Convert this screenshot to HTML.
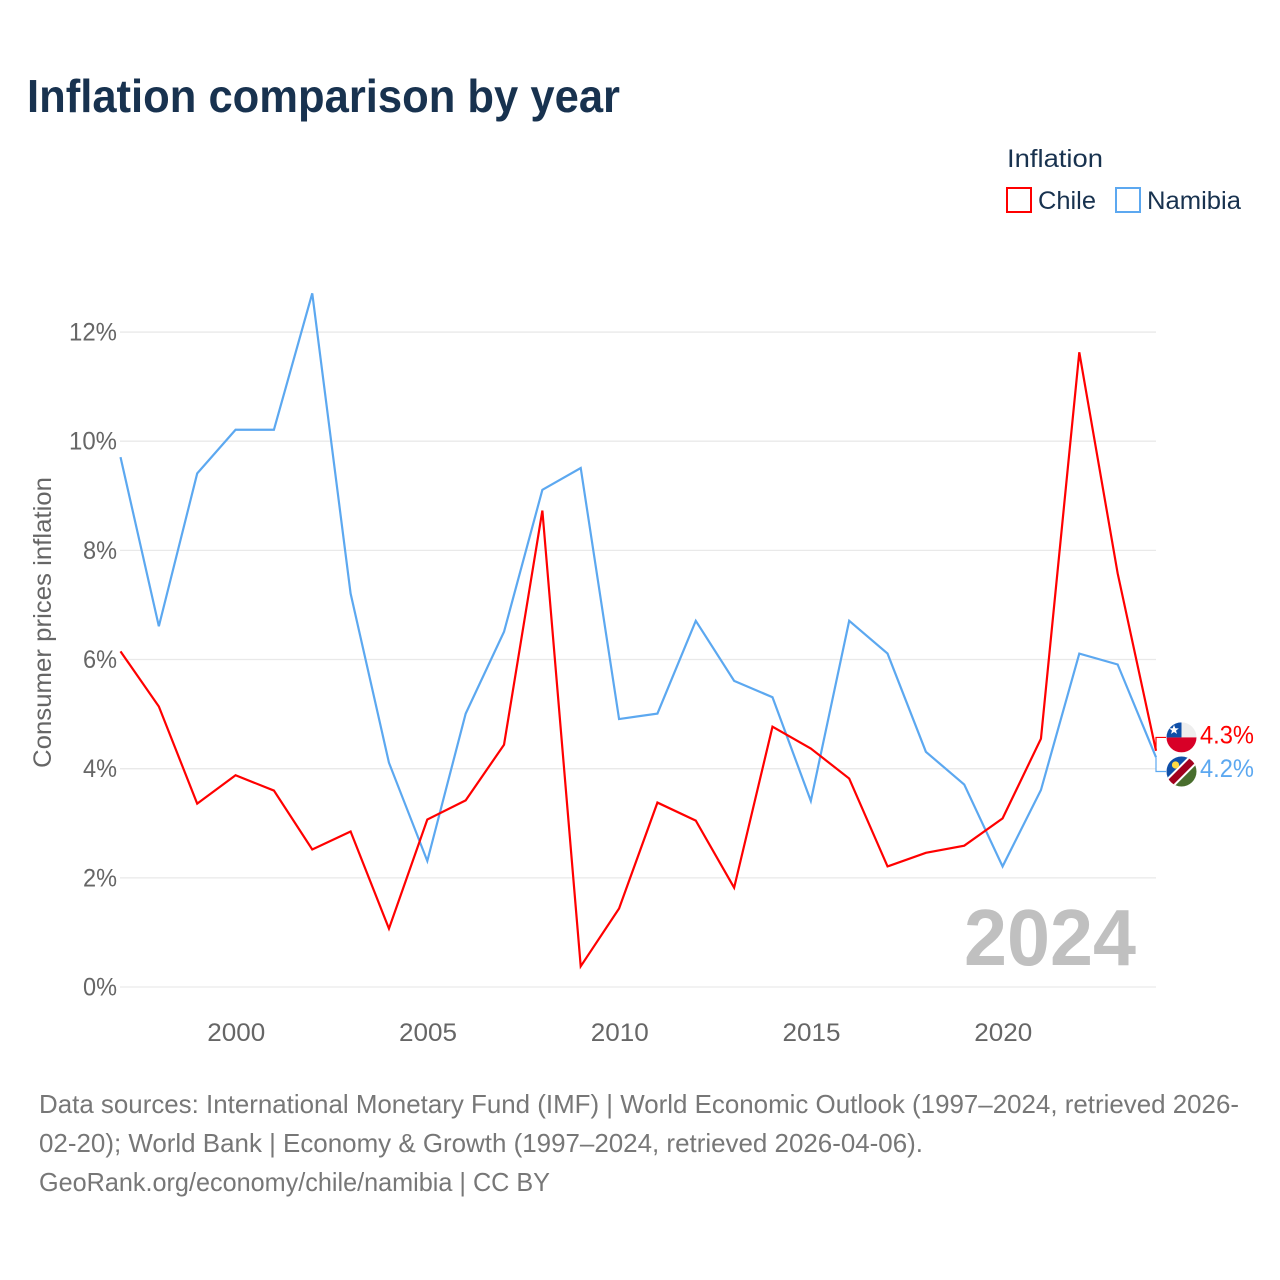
<!DOCTYPE html>
<html lang="en">
<head>
<meta charset="utf-8">
<title>Inflation comparison by year</title>
<style>
html,body{margin:0;padding:0;background:#fff}
svg{display:block}
text{font-family:"Liberation Sans",sans-serif}
</style>
</head>
<body>
<svg id="chart" width="1280" height="1280" viewBox="0 0 1280 1280" xmlns="http://www.w3.org/2000/svg">
  <defs>
    <clipPath id="clip-chile"><circle id="clip-chile-c" cx="0" cy="0" r="15"/></clipPath>
    <clipPath id="clip-namibia"><circle id="clip-namibia-c" cx="0" cy="0" r="15"/></clipPath>
  </defs>
  <rect width="1280" height="1280" fill="#fff"/>
  <text x="27" y="112" font-size="46" font-weight="700" fill="#18324f" textLength="593" lengthAdjust="spacingAndGlyphs">Inflation comparison by year</text>

  <text x="1007" y="167" font-size="25" fill="#18324f" textLength="96" lengthAdjust="spacingAndGlyphs">Inflation</text>
  <rect x="1007" y="188" width="24" height="24" fill="none" stroke="#ff0000" stroke-width="2"/>
  <text x="1038" y="209" font-size="25" fill="#18324f" textLength="58" lengthAdjust="spacingAndGlyphs">Chile</text>
  <rect x="1116" y="188" width="24" height="24" fill="none" stroke="#5ca8f0" stroke-width="2"/>
  <text x="1147" y="209" font-size="25" fill="#18324f" textLength="94" lengthAdjust="spacingAndGlyphs">Namibia</text>

  <g id="grid"></g>
  <g id="y-ticks"></g>
  <g id="x-ticks"></g>
  <text transform="translate(51 622.5) rotate(-90)" text-anchor="middle" font-size="25" fill="#666" textLength="291" lengthAdjust="spacingAndGlyphs">Consumer prices inflation</text>

  <text x="964" y="965" font-size="80" font-weight="700" fill="#c0c0c0" textLength="172" lengthAdjust="spacingAndGlyphs">2024</text>

  <g id="series"></g>
  <g id="end-labels"></g>

  <text x="39" y="1113" font-size="26" fill="#777" textLength="1200" lengthAdjust="spacingAndGlyphs">Data sources: International Monetary Fund (IMF) | World Economic Outlook (1997–2024, retrieved 2026-</text>
  <text x="39" y="1152" font-size="26" fill="#777" textLength="884" lengthAdjust="spacingAndGlyphs">02-20); World Bank | Economy &amp; Growth (1997–2024, retrieved 2026-04-06).</text>
  <text x="39" y="1191" font-size="26" fill="#777" textLength="511" lengthAdjust="spacingAndGlyphs">GeoRank.org/economy/chile/namibia | CC BY</text>
</svg>
<script>
var years = [1997,1998,1999,2000,2001,2002,2003,2004,2005,2006,2007,2008,2009,2010,2011,2012,2013,2014,2015,2016,2017,2018,2019,2020,2021,2022,2023,2024];
var chileValues = [6.14,5.13,3.35,3.87,3.59,2.51,2.84,1.06,3.06,3.41,4.43,8.72,0.37,1.43,3.37,3.04,1.81,4.76,4.36,3.81,2.20,2.45,2.58,3.08,4.54,11.62,7.57,4.32];
var namibiaValues = [9.7,6.6,9.4,10.2,10.2,12.7,7.2,4.1,2.3,5.0,6.5,9.1,9.5,4.9,5.0,6.7,5.6,5.3,3.4,6.7,6.1,4.3,3.7,2.2,3.6,6.1,5.9,4.2];
var yTicks = [0,2,4,6,8,10,12];
var xTicks = [2000,2005,2010,2015,2020];

var NS = 'http://www.w3.org/2000/svg';
function xScale(year){ return 120.5 + (year - 1997) * (1156 - 120.5) / 27; }
function yScale(v){ return 987 - v * 54.58; }
function make(tag, attrs, parent){
  var el = document.createElementNS(NS, tag);
  for (var k in attrs) el.setAttribute(k, attrs[k]);
  parent.appendChild(el);
  return el;
}
var grid = document.getElementById('grid');
var yG = document.getElementById('y-ticks');
var xG = document.getElementById('x-ticks');
var seriesG = document.getElementById('series');
var endG = document.getElementById('end-labels');

yTicks.forEach(function(t){
  var line = make('line', {x1:120, x2:1156, y1:yScale(t), y2:yScale(t), stroke:'#e9e9e9', 'stroke-width':1.3}, grid);
  
  
  var label = make('text', {x:117, y:yScale(t)+8.5, 'text-anchor':'end', 'font-size':25, fill:'#666', textLength:(t >= 10 ? 48 : 34), lengthAdjust:'spacingAndGlyphs'}, yG);
  
  
  label.textContent = t + '%';
});
xTicks.forEach(function(t){
  var label = make('text', {x:xScale(t)+0.7, y:1041, 'text-anchor':'middle', 'font-size':25, fill:'#666', textLength:58, lengthAdjust:'spacingAndGlyphs'}, xG);
  
  
  label.textContent = t;
});
function pathFor(values){
  return values.map(function(v, i){ return (i ? 'L' : 'M') + xScale(years[i]).toFixed(2) + ' ' + (yScale(v)-0.5).toFixed(2); }).join(' ');
}
var namibiaLine = make('path', {d:pathFor(namibiaValues), fill:'none', stroke:'#5ca8f0', 'stroke-width':2.2, 'stroke-linejoin':'miter'}, seriesG);


var chileLine = make('path', {d:pathFor(chileValues), fill:'none', stroke:'#ff0000', 'stroke-width':2.2, 'stroke-linejoin':'miter'}, seriesG);



var endX = xScale(years[years.length-1]);
var chileEnd = yScale(chileValues[chileValues.length-1]) - 0.5;
var namibiaEnd = yScale(namibiaValues[namibiaValues.length-1]) - 0.5;
var chileCy = chileEnd - 13.3;
var namibiaCy = namibiaEnd + 14.2;
var flagX = 1181.5;

var chileConn = make('path', {d:'M'+endX+' '+chileEnd+' V'+chileCy+' H1166', fill:'none', stroke:'#ff0000', 'stroke-width':1.2}, endG);


var namibiaConn = make('path', {d:'M'+endX+' '+namibiaEnd+' V'+namibiaCy+' H1166', fill:'none', stroke:'#5ca8f0', 'stroke-width':1.2}, endG);



document.getElementById('clip-chile-c').setAttribute('cx', flagX);
document.getElementById('clip-chile-c').setAttribute('cy', chileCy);
document.getElementById('clip-namibia-c').setAttribute('cx', flagX);
document.getElementById('clip-namibia-c').setAttribute('cy', namibiaCy);

var cf = make('g', {'clip-path':'url(#clip-chile)'}, endG);


make('rect', {x:flagX-15, y:chileCy-15, width:30, height:15, fill:'#eeeeee'}, cf);
make('rect', {x:flagX-15, y:chileCy, width:30, height:15, fill:'#d80027'}, cf);
make('rect', {x:flagX-15, y:chileCy-15, width:15, height:15, fill:'#0f4fa8'}, cf);
make('polygon', {points:[[0,-5],[1.3,-1.7],[4.8,-1.5],[2,0.7],[3,4],[0,2.1],[-3,4],[-2,0.7],[-4.8,-1.5],[-1.3,-1.7]].map(function(p){return (flagX-7.5+p[0])+','+(chileCy-7.5+p[1]);}).join(' '), fill:'#fff'}, cf);

var nf = make('g', {'clip-path':'url(#clip-namibia)'}, endG);


make('rect', {x:flagX-15, y:namibiaCy-15, width:30, height:30, fill:'#fff'}, nf);
make('polygon', {points:(flagX-15)+','+(namibiaCy-15)+' '+(flagX+10)+','+(namibiaCy-15)+' '+(flagX-15)+','+(namibiaCy+10), fill:'#0f4fa8'}, nf);
make('polygon', {points:(flagX+15)+','+(namibiaCy+15)+' '+(flagX-10)+','+(namibiaCy+15)+' '+(flagX+15)+','+(namibiaCy-10), fill:'#496e2d'}, nf);
make('line', {x1:flagX-15, y1:namibiaCy+15, x2:flagX+15, y2:namibiaCy-15, stroke:'#fff', 'stroke-width':11}, nf);
make('line', {x1:flagX-15, y1:namibiaCy+15, x2:flagX+15, y2:namibiaCy-15, stroke:'#a2001d', 'stroke-width':7}, nf);
make('circle', {cx:flagX-6, cy:namibiaCy-6.5, r:3.6, fill:'#ffda44'}, nf);

var chileLabel = make('text', {x:1200, y:chileCy+6, 'font-size':25, fill:'#ff0000', textLength:54, lengthAdjust:'spacingAndGlyphs'}, endG);


chileLabel.textContent = chileValues[chileValues.length-1].toFixed(1) + '%';
var namibiaLabel = make('text', {x:1200, y:namibiaCy+5.5, 'font-size':25, fill:'#5ca8f0', textLength:54, lengthAdjust:'spacingAndGlyphs'}, endG);


namibiaLabel.textContent = namibiaValues[namibiaValues.length-1].toFixed(1) + '%';
</script>
</body>
</html>
